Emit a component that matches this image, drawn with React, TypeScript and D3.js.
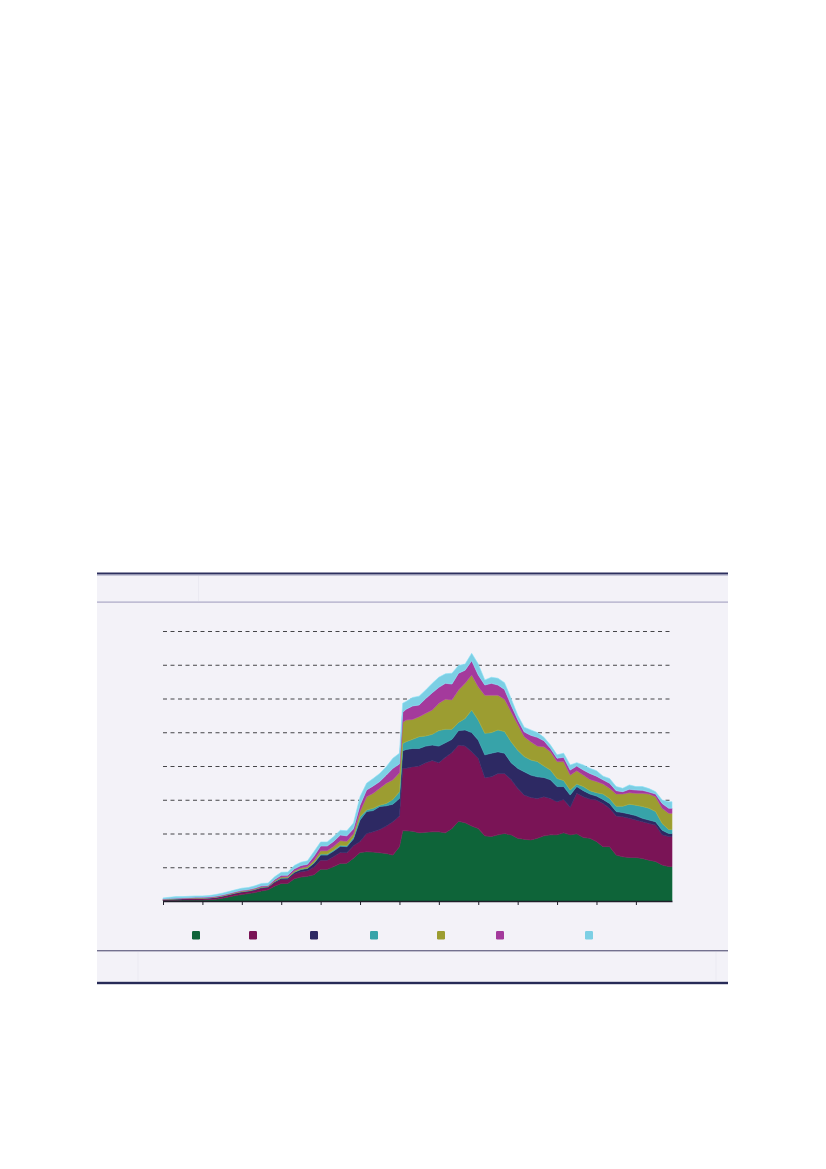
import React, { useEffect, useRef } from 'react';
import * as d3 from 'd3';

// sample times in months from the first tick (one extra point at 73 for the jump)
const months = [...d3.range(0, 73, 2), 73, ...d3.range(74, 155, 2), 155];
const yearTicks = d3.range(0, 145, 12);
const gridValues = [1, 2, 3, 4, 5, 6, 7, 8];

const green = [
    .02, .02, .02, .03, .03, .03, .03, .04, .05, .08, .12, .16, .19, .22, .25, .30, .33, .44, .52, .52,
    .66, .71, .73, .78, .94, .94, 1.02, 1.11, 1.12, 1.27, 1.44, 1.46, 1.45, 1.43, 1.41, 1.36, 1.61,
    2.08,
    2.08, 2.07, 2.02, 2.04, 2.05, 2.05, 2.02, 2.15, 2.36, 2.32, 2.22, 2.15, 1.93, 1.91, 1.96, 2.0, 1.96, 1.86, 1.83, 1.81,
    1.86, 1.93, 1.96, 1.96, 2.02, 1.96, 1.99, 1.88, 1.86, 1.76, 1.61, 1.61, 1.36, 1.31, 1.29, 1.29, 1.26, 1.21, 1.17, 1.07, 1.02,
    1.02
];
const maroon = [
    .02, .025, .03, .03, .035, .04, .04, .04, .045, .05, .055, .06, .07, .065, .07, .08, .07, .10, .12, .12,
    .14, .16, .17, .23, .27, .27, .30, .33, .31, .37, .32, .54, .60, .69, .81, .99, .91,
    1.85,
    1.85, 1.91, 1.98, 2.06, 2.11, 2.05, 2.24, 2.25, 2.26, 2.27, 2.20, 2.08, 1.73, 1.77, 1.82, 1.78, 1.64, 1.48, 1.31, 1.26,
    1.18, 1.16, 1.08, .98, .99, .82, 1.20, 1.21, 1.16, 1.23, 1.28, 1.14, 1.16, 1.19, 1.16, 1.11, 1.09, 1.09, 1.08, .89, .89,
    .89
];
const navy = [
    .005, .008, .01, .01, .01, .01, .01, .01, .012, .012, .012, .015, .015, .015, .02, .02, .02, .03, .035, .04,
    .05, .06, .065, .11, .15, .15, .16, .18, .18, .20, .64, .65, .63, .68, .60, .52, .52,
    .52,
    .56, .54, .52, .49, .46, .49, .43, .39, .43, .48, .57, .54, .67, .70, .64, .60, .50, .59, .69, .66,
    .64, .57, .55, .45, .38, .36, .20, .18, .15, .12, .12, .14, .13, .12, .13, .13, .10, .10, .10, .14, .09,
    .09
];
const teal = [
    .003, .004, .005, .004, .005, .005, .005, .005, .005, .006, .006, .006, .007, .006, .007, .008, .007, .01, .01, .01,
    .012, .015, .015, .02, .03, .03, .03, .035, .03, .05, .10, .05, .07, .04, .07, .14, .20,
    .22,
    .23, .27, .35, .30, .32, .46, .40, .30, .24, .34, .67, .59, .64, .61, .65, .64, .62, .54, .45, .45,
    .45, .34, .29, .24, .18, .15, .08, .12, .10, .10, .16, .15, .16, .19, .29, .31, .35, .35, .30, .20, .12,
    .12
];
const olive = [
    .004, .005, .006, .006, .005, .005, .005, .005, .008, .01, .012, .012, .013, .012, .013, .015, .013, .02, .025, .025,
    .03, .035, .04, .07, .10, .10, .11, .13, .13, .10, .15, .39, .44, .50, .60, .58, .56,
    .62,
    .64, .59, .59, .67, .72, .81, .89, .87, .96, 1.04, 1.04, .99, 1.13, 1.11, 1.03, .96, .89, .77, .59, .54,
    .46, .57, .54, .50, .56, .44, .39, .34, .33, .33, .30, .30, .36, .36, .34, .35, .39, .42, .44, .45, .48,
    .48
];
const magenta = [
    .008, .01, .014, .01, .015, .02, .02, .02, .02, .02, .02, .02, .02, .02, .025, .027, .022, .04, .05, .05,
    .06, .07, .07, .12, .14, .14, .15, .17, .16, .15, .19, .20, .22, .20, .24, .34, .26,
    .30,
    .32, .40, .35, .44, .51, .47, .47, .47, .50, .39, .42, .35, .30, .35, .30, .29, .20, .14, .14, .19,
    .26, .18, .10, .10, .13, .15, .14, .15, .18, .16, .12, .15, .10, .07, .10, .10, .09, .06, .08, .14, .15,
    .15
];
const lightBlue = [
    .03, .038, .045, .04, .04, .04, .04, .04, .05, .052, .055, .057, .065, .062, .065, .07, .068, .08, .09, .095,
    .10, .10, .10, .14, .12, .12, .14, .14, .15, .17, .25, .20, .22, .24, .25, .30, .32,
    .27,
    .23, .25, .26, .25, .28, .30, .28, .32, .23, .18, .22, .32, .15, .18, .20, .20, .19, .13, .14, .16,
    .14, .10, .10, .10, .12, .15, .10, .15, .15, .16, .11, .14, .12, .10, .13, .10, .11, .10, .07, .10, .19,
    .19
];

const seriesKeys = ['green', 'maroon', 'navy', 'teal', 'olive', 'magenta', 'lightBlue'];
const seriesValues = [green, maroon, navy, teal, olive, magenta, lightBlue];
const seriesColors = ['#0e6439', '#7a1456', '#2d2963', '#37a3a9', '#9c9d31', '#a43a9c', '#7ccfe4'];

const App: React.FC = () => {
    const svgRef = useRef<SVGSVGElement>(null);

    useEffect(() => {
        if (!svgRef.current) return;
        const svg = d3.select(svgRef.current);
        svg.selectAll('*').remove();

        // panel frame
        svg.append('rect').attr('x', 97).attr('y', 573).attr('width', 631).attr('height', 410).attr('fill', '#f3f2f8');
        svg.append('rect').attr('x', 97).attr('y', 572.5).attr('width', 631).attr('height', 2).attr('fill', '#2c2f5e');
        svg.append('rect').attr('x', 97).attr('y', 574.5).attr('width', 631).attr('height', 1).attr('fill', '#9a99b8');
        svg.append('rect').attr('x', 97).attr('y', 601.5).attr('width', 631).attr('height', 1.2).attr('fill', '#aaa7c5');
        svg.append('line').attr('x1', 198.5).attr('x2', 198.5).attr('y1', 576).attr('y2', 601)
            .attr('stroke', '#ebeaf2').attr('stroke-width', 1);
        svg.append('rect').attr('x', 97).attr('y', 950).attr('width', 631).attr('height', 1.4).attr('fill', '#73718f');
        svg.append('rect').attr('x', 97).attr('y', 981.8).attr('width', 631).attr('height', 2.4).attr('fill', '#272b57');
        [138, 716].forEach(xv => {
            svg.append('line').attr('x1', xv).attr('x2', xv).attr('y1', 952).attr('y2', 981)
                .attr('stroke', '#ebeaf2').attr('stroke-width', 1);
        });

        const x = d3.scaleLinear().domain([0, 155]).range([163, 672]);
        const y = d3.scaleLinear().domain([0, 8]).range([901, 631]);

        // dashed gridlines
        svg.append('g').selectAll('line')
            .data(gridValues)
            .enter()
            .append('line')
            .attr('x1', 163)
            .attr('x2', 672)
            .attr('y1', d => y(d) + 0.5)
            .attr('y2', d => y(d) + 0.5)
            .attr('stroke', '#454548')
            .attr('stroke-width', 1)
            .attr('stroke-dasharray', '4,3.5');

        // stacked areas
        const rows = months.map((m, i) => {
            const row: any = { m };
            seriesKeys.forEach((k, j) => { row[k] = seriesValues[j][i]; });
            return row;
        });
        const stacked = d3.stack<any>().keys(seriesKeys)(rows);
        const area = d3.area<any>()
            .x(d => x(d.data.m))
            .y0(d => y(d[0]))
            .y1(d => y(d[1]))
            .curve(d3.curveLinear);

        svg.append('g').selectAll('path')
            .data(stacked)
            .enter()
            .append('path')
            .attr('d', d => area(d) as string)
            .attr('fill', (d, i) => seriesColors[i])
            .attr('stroke', (d, i) => d3.color(seriesColors[i])!.brighter(0.25).formatHex())
            .attr('stroke-width', 0.6);

        // x axis
        const axis = d3.axisBottom(x)
            .tickValues(yearTicks)
            .tickSize(4)
            .tickSizeOuter(0)
            .tickFormat(() => '');
        const gx = svg.append('g').attr('transform', 'translate(0,901)').call(axis);
        gx.select('.domain').attr('stroke', '#1f1f2a').attr('stroke-width', 1.4);
        gx.selectAll('.tick line').attr('stroke', '#1f1f2a').attr('stroke-width', 1);

        // legend markers (labels are absent in the source)
        const legendX = [192, 249, 310, 370, 437, 496, 585];
        svg.append('g').selectAll('rect')
            .data(seriesColors)
            .enter()
            .append('rect')
            .attr('x', (d, i) => legendX[i])
            .attr('y', 931)
            .attr('width', 8)
            .attr('height', 8.5)
            .attr('rx', 1.2)
            .attr('fill', d => d);
    }, []);

    return (
        <svg ref={svgRef} width={826} height={1169} style={{ position: 'absolute', left: 0, top: 0 }}></svg>
    );
};

export default App;
